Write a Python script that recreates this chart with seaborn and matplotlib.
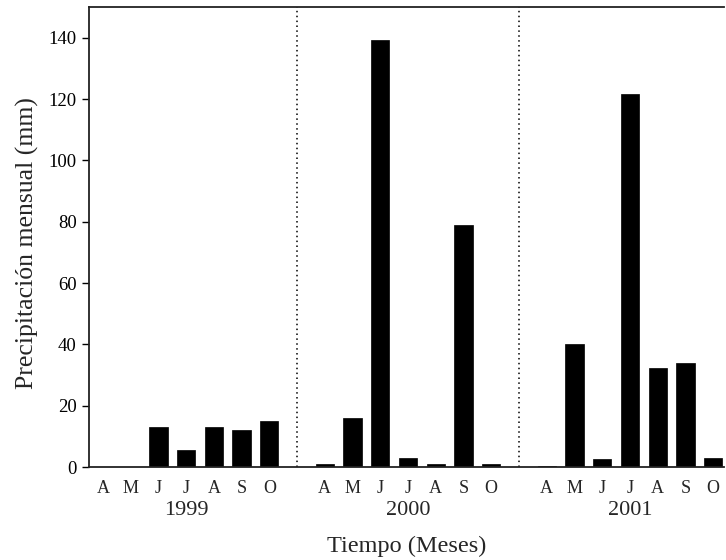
import numpy as np
import pandas as pd
import matplotlib
matplotlib.use('Agg')
import matplotlib.pyplot as plt
import matplotlib.transforms as mtransforms
import seaborn as sns

# Precipitación mensual (mm), abril a octubre de cada año
anos = ['1999', '2000', '2001']
meses = ['A', 'M', 'J', 'J', 'A', 'S', 'O']
lluvia_1999 = [0, 0, 13, 5.7, 13, 12, 14.9]
lluvia_2000 = [1.1, 16.1, 139.3, 3, 1.1, 79, 1.1]
lluvia_2001 = [0.5, 40.1, 2.5, 121.6, 32.3, 33.8, 3]

series = [lluvia_1999, lluvia_2000, lluvia_2001]
filas = []
for i, (ano, valores) in enumerate(zip(anos, series)):
    for j, (mes, v) in enumerate(zip(meses, valores)):
        # un hueco entre años
        filas.append({'ano': ano, 'mes': mes, 'pos': j + i * (len(meses) + 1), 'mm': v})
df = pd.DataFrame(filas)

sns.set_style('ticks')
plt.rcParams['font.family'] = ['Liberation Serif', 'DejaVu Serif']

fig = plt.figure(figsize=(7.26, 5.6), dpi=100)
ax = fig.add_axes([0.1226, 0.166, 0.875, 0.8215])

sns.barplot(data=df, x='pos', y='mm', native_scale=True, color='black',
            width=0.66, saturation=1, edgecolor='black', linewidth=0.5, ax=ax)

paso = len(meses) + 1
for k in range(1, len(anos)):
    ax.axvline(k * paso - 1, color='black', linestyle=(0, (1, 2.2)), linewidth=1.1)

ax.set_xlim(-0.5, 22.4)
ax.set_ylim(0, 150)
ax.set_yticks(np.arange(0, 141, 20))
ax.tick_params(axis='y', direction='out', length=5, width=1, labelsize=13.5, colors='black', pad=4)
ax.set_xticks(df['pos'])
ax.set_xticklabels(df['mes'], fontsize=13)
ax.tick_params(axis='x', length=0, pad=9.5)

trans = mtransforms.blended_transform_factory(ax.transData, ax.transAxes)
for i, ano in enumerate(anos):
    centro = df.loc[df['ano'] == ano, 'pos'].mean()
    ax.text(centro, -0.095, ano, transform=trans, ha='center', va='center', fontsize=16)

ax.set_xlabel('Tiempo (Meses)', fontsize=17.5, va='center')
ax.xaxis.set_label_coords(0.5, -0.172)
ax.set_ylabel('Precipitación mensual (mm)', fontsize=18.5, va='center')
ax.yaxis.set_label_coords(-0.097, 0.487)

for lado in ['left', 'bottom', 'top']:
    ax.spines[lado].set_color('#222222')
    ax.spines[lado].set_linewidth(1.3)
ax.spines['right'].set_visible(False)

fig.savefig('out.png', dpi=100)
